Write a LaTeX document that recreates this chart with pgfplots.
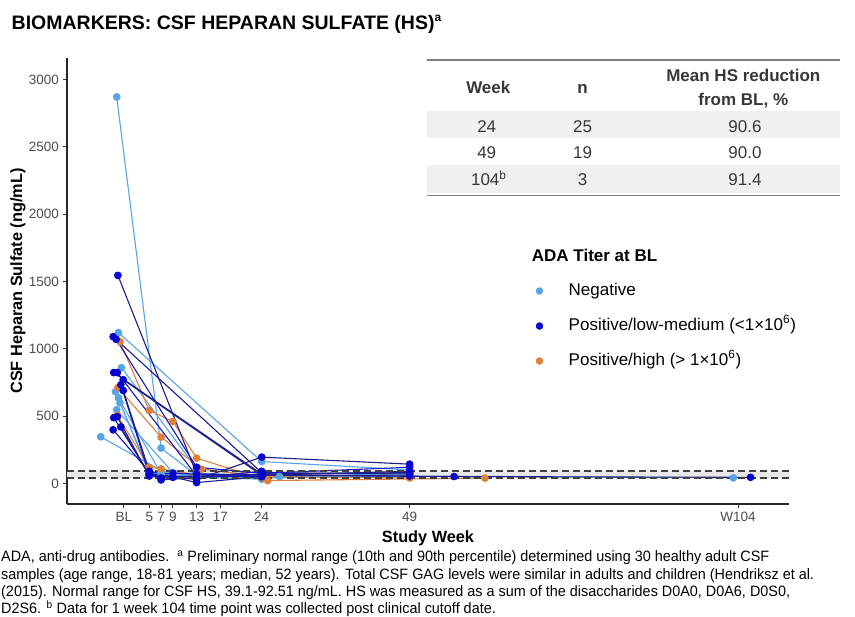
\documentclass[border=0pt]{standalone}
\usepackage{pgfplots}
\pgfplotsset{compat=1.18}
\usepackage{fontspec}
\setmainfont{Liberation Sans}
\newfontfamily\narrowfont[FakeStretch=0.96]{Liberation Sans}
\definecolor{lb}{RGB}{88,165,230}
\definecolor{db}{RGB}{5,5,205}
\definecolor{nv}{RGB}{28,28,140}
\definecolor{bl}{RGB}{22,22,195}
\definecolor{org}{RGB}{222,128,58}
\definecolor{txt}{RGB}{77,77,77}
\definecolor{tbl}{RGB}{55,55,55}
\definecolor{rowgray}{RGB}{240,240,240}
\definecolor{rule}{RGB}{125,125,125}
\pgfplotsset{
  neg/.style={lb, line width=1.1bp, mark=*, mark size=3.3bp, mark options={solid, fill=lb, draw=lb}, forget plot},
  lown/.style={nv, line width=1.1bp, mark=*, mark size=3.3bp, mark options={solid, fill=db, draw=db}, forget plot},
  lowb/.style={bl, line width=1.1bp, mark=*, mark size=3.3bp, mark options={solid, fill=db, draw=db}, forget plot},
  high/.style={org, line width=1.1bp, mark=*, mark size=3.3bp, mark options={solid, fill=org, draw=org}, forget plot},
}
\begin{document}
\begin{tikzpicture}[x=1bp,y=1bp]
\path[use as bounding box] (0,0) rectangle (855,617);
% title
\node[anchor=base west, inner sep=0pt, font=\fontsize{19.5bp}{22bp}\selectfont\bfseries] at (11.5,587.7) {BIOMARKERS: CSF HEPARAN SULFATE (HS)\textsuperscript{\fontsize{12bp}{14bp}\selectfont a}};
% table
\fill[rowgray] (427,617-138.3) rectangle (840,617-111);
\fill[rowgray] (427,617-193.3) rectangle (840,617-165);
\draw[rule, line width=1.8bp] (427,617-60) -- (840,617-60);
\draw[rule, line width=1.8bp] (427,617-195.5) -- (840,617-195.5);
\begin{scope}[every node/.style={anchor=base, inner sep=0pt, text=tbl, font=\fontsize{17bp}{20bp}\selectfont}]
\node[font=\fontsize{17bp}{20bp}\selectfont\bfseries] at (488.3,617-93.3) {Week};
\node[font=\fontsize{17bp}{20bp}\selectfont\bfseries] at (582.5,617-93.3) {n};
\node[font=\fontsize{17bp}{20bp}\selectfont\bfseries] at (743.3,617-81.7) {Mean HS reduction};
\node[font=\fontsize{17bp}{20bp}\selectfont\bfseries] at (743.3,617-105.7) {from BL, \%};
\node at (486.7,617-132.3) {24};
\node at (582.5,617-132.3) {25};
\node at (745,617-132.3) {90.6};
\node at (486.7,617-158.3) {49};
\node at (582.5,617-158.3) {19};
\node at (745,617-158.3) {90.0};
\node at (488.8,617-185.7) {104\textsuperscript{b}};
\node at (582.5,617-185.7) {3};
\node at (745,617-185.7) {91.4};
\end{scope}
% legend title
\node[anchor=base west, inner sep=0pt, font=\fontsize{17bp}{20bp}\selectfont\bfseries] at (531.7,617-261.7) {ADA Titer at BL};
\begin{axis}[
  at={(67bp,113bp)}, anchor=south west,
  width=722bp, height=446bp, scale only axis,
  xmin=-8.9, xmax=113.1, ymin=-153, ymax=3160,
  enlargelimits=false,
  axis x line=bottom, axis y line=left,
  axis line style={-, black!85, line width=1.1bp},
  tick align=outside, major tick length=4.5bp,
  tick style={black!80, line width=0.9bp},
  xtick={0.7,5,7,9,13,17,24,49,104.5},
  xticklabels={BL,5,7,9,13,17,24,49,W104},
  ytick={0,500,1000,1500,2000,2500,3000},
  /pgf/number format/assume math mode=true,
  /pgf/number format/1000 sep={},
  tick label style={font=\fontsize{13.5bp}{15bp}\selectfont, text=txt},
  xlabel={Study Week},
  ylabel={CSF Heparan Sulfate (ng/mL)},
  label style={font=\fontsize{16.3bp}{19bp}\selectfont\bfseries, text=black},
  xlabel style={at={(axis description cs:0.5,-0.078)}, anchor=center},
  ylabel style={at={(axis description cs:-0.0679,0.5)}, anchor=center},
  legend style={draw=none, fill=none, inner sep=0pt, outer sep=0pt,
    at={(0.6493,0.4966)}, anchor=north west, row sep=18bp,
    font=\fontsize{17bp}{20bp}\selectfont,
    nodes={inner sep=0pt, text height=12.5bp, text depth=4.5bp},
    /tikz/every odd column/.append style={column sep=25.5bp}},
  legend cell align=left,
]
% normal range band
\addplot[draw=none, fill=black!9, forget plot] coordinates {(-8.9,39.1) (113.1,39.1) (113.1,92.51) (-8.9,92.51) (-8.9,39.1)};
% Negative
\addplot[neg] coordinates {(-0.5,2870) (7,262) (13,60) (24,45) (49,75)};
\addplot[neg] coordinates {(-0.2,1120) (24,162) (49,100)};
\addplot[neg] coordinates {(0.3,860) (13,110) (24,55) (49,60)};
\addplot[neg] coordinates {(-0.7,681) (5,75) (9,60) (24,40) (49,55) (103.7,41)};
\addplot[neg] coordinates {(-0.2,636) (7,70) (13,45) (24,31)};
\addplot[neg] coordinates {(0.05,599) (5,90) (13,60) (27,51) (49,65)};
\addplot[neg] coordinates {(-0.5,547) (9,80) (24,60)};
\addplot[neg] coordinates {(-3.2,346) (7,95) (13,50) (24,35)};
% Positive/high
\addplot[high] coordinates {(0.05,1053) (5,542) (9,460) (13,188) (25,21) (61.7,39)};
\addplot[high] coordinates {(-0.3,711) (7,344) (13.8,106) (24,50) (49,40)};
\addplot[high] coordinates {(-0.4,505) (5,120) (7,108) (13,60) (24,45)};
% Positive/low-medium
\addplot[lown] coordinates {(-0.3,1545) (13,70) (24,60) (49,90)};
\addplot[lown] coordinates {(-1.1,1090) (24,80) (49,70)};
\addplot[lowb] coordinates {(-0.6,1070) (13,120) (24,75) (49,120)};
\addplot[lown] coordinates {(-1.0,823) (24,70) (49,80)};
\addplot[lowb] coordinates {(-0.4,823) (13,55) (24,50)};
\addplot[lown] coordinates {(0.6,770) (24,60) (56.5,51) (106.6,45)};
\addplot[lowb] coordinates {(0.2,733) (5,65) (9,75) (24,55)};
\addplot[lown] coordinates {(0.6,690) (5,90) (13,6) (24,50)};
\addplot[lowb] coordinates {(-1.0,488) (5,70) (7,26) (24,70)};
\addplot[lown] coordinates {(-0.4,495) (5,55) (9,45) (13,30) (24,195) (49,143)};
\addplot[lowb] coordinates {(-1.1,398) (5,85) (7,40) (13,40) (24,90)};
\addplot[lown] coordinates {(0.2,420) (5,60) (9,50) (24,65) (49,55)};
% normal range lines
\addplot[black!75, line width=1.3bp, dash pattern=on 7bp off 4bp, forget plot] coordinates {(-8.9,39.1) (113.1,39.1)};
\addplot[black!75, line width=1.3bp, dash pattern=on 7bp off 4bp, forget plot] coordinates {(-8.9,92.51) (113.1,92.51)};
% legend
\addlegendimage{legend image code/.code={\fill[lb] (0bp,0bp) circle (3.5bp);}}
\addlegendentry{Negative}
\addlegendimage{legend image code/.code={\fill[db] (0bp,0bp) circle (3.5bp);}}
\addlegendentry{Positive/low-medium (<1×10\textsuperscript{6})}
\addlegendimage{legend image code/.code={\fill[org] (0bp,0bp) circle (3.5bp);}}
\addlegendentry{Positive/high (> 1×10\textsuperscript{6})}
\end{axis}
% footnote
\begin{scope}[every node/.style={anchor=base west, inner sep=0pt, font=\narrowfont\fontsize{15bp}{17bp}\selectfont}]
\node at (1,617-562) {ADA, anti-drug antibodies.\ \ \textsuperscript{a} Preliminary normal range (10th and 90th percentile) determined using 30 healthy adult CSF};
\node at (1,617-579.3) {samples (age range, 18-81 years; median, 52 years). Total CSF GAG levels were similar in adults and children (Hendriksz et al.};
\node at (1,617-596.7) {(2015). Normal range for CSF HS, 39.1-92.51 ng/mL. HS was measured as a sum of the disaccharides D0A0, D0A6, D0S0,};
\node at (1,617-614) {D2S6. \textsuperscript{b} Data for 1 week 104 time point was collected post clinical cutoff date.};
\end{scope}
\end{tikzpicture}
\end{document}
